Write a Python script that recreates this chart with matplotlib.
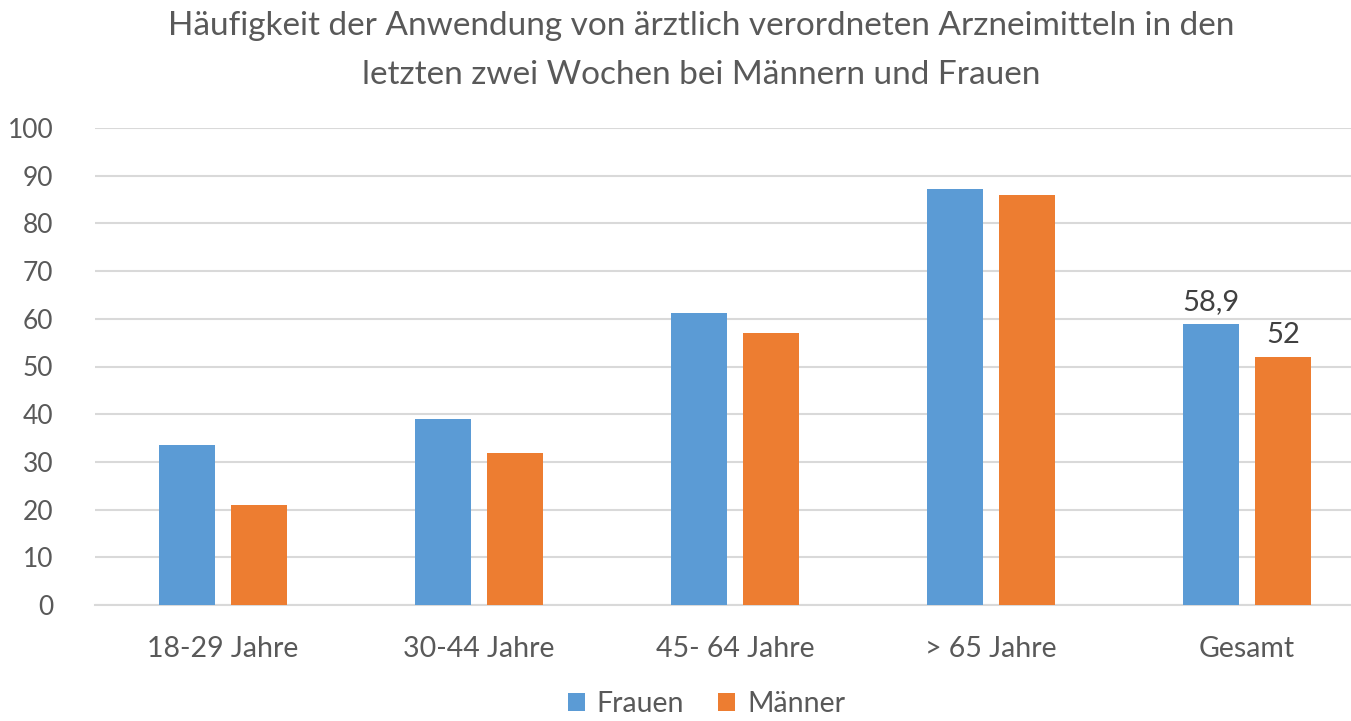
import numpy as np
import matplotlib.pyplot as plt

categories = ['18-29 Jahre', '30-44 Jahre', '45- 64 Jahre', '> 65 Jahre', 'Gesamt']
frauen = [33.5, 38.9, 61.2, 87.2, 58.9]
maenner = [21.0, 31.8, 57.0, 86.0, 52.0]
label_idx = 4
label_frauen = '58,9'
label_maenner = '52'

plt.rcParams['font.family'] = ['Lato', 'DejaVu Sans']

fig = plt.figure(figsize=(13.51, 7.21), dpi=100)
ax = fig.add_axes([95/1351, 116/721, 1 - 95/1351, 477/721])

x = np.arange(len(categories))
w = 0.219
b1 = ax.bar(x - 0.142, frauen, w, color='#5B9BD5', label='Frauen', zorder=3)
b2 = ax.bar(x + 0.142, maenner, w, color='#ED7D31', label='Männer', zorder=3)

ax.text(x[label_idx] - 0.142, frauen[label_idx] + 1.8, label_frauen, ha='center', va='bottom',
        fontsize=21, color='#404040')
ax.text(x[label_idx] + 0.142, maenner[label_idx] + 1.8, label_maenner, ha='center', va='bottom',
        fontsize=21, color='#404040')

ax.set_xlim(-0.5, -0.5 + (1351 - 95) / 256)
ax.set_ylim(0, 100)
ax.set_yticks(range(0, 101, 10))
ax.set_xticks(x)
ax.set_xticklabels(categories)
ax.yaxis.grid(True, color='#d9d9d9', linewidth=1.5, zorder=0)
ax.set_axisbelow(True)
for s in ['top', 'right', 'left']:
    ax.spines[s].set_visible(False)
ax.spines['bottom'].set_color('#d9d9d9')
ax.spines['bottom'].set_linewidth(1.5)
ax.tick_params(axis='both', length=0, colors='#595959')
ax.tick_params(axis='y', pad=30, labelsize=19)
ax.tick_params(axis='x', pad=22, labelsize=20.5)

fig.text(0.519, 0.985, 'Häufigkeit der Anwendung von ärztlich verordneten Arzneimitteln in den\n'
         'letzten zwei Wochen bei Männern und Frauen', ha='center', va='top',
         fontsize=24, color='#595959', linespacing=1.8)

fig.legend(handles=[b1, b2], loc='center', bbox_to_anchor=(0.523, 0.023), ncol=2, frameon=False,
           fontsize=20.5, labelcolor='#595959', handlelength=0.6, handleheight=0.6,
           handletextpad=0.4, columnspacing=1.2, borderpad=0.1)

fig.savefig('out.png', dpi=100)
